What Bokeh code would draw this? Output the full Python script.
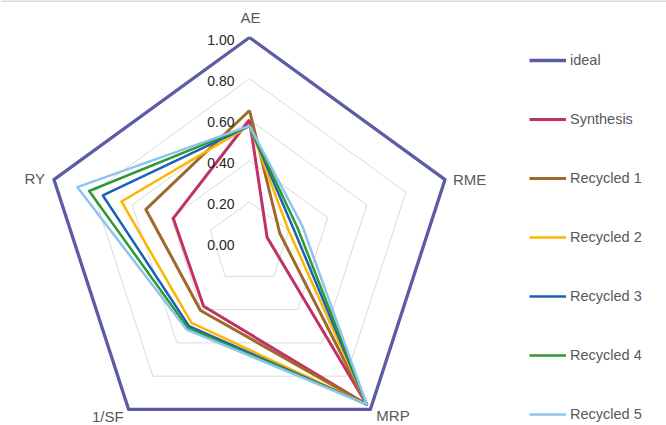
import numpy as np
from bokeh.plotting import figure
from bokeh.models import Range1d, Legend, LegendItem, Span
from bokeh.core.properties import value
from bokeh.embed import file_html
from bokeh.resources import INLINE

# ---- data ----
categories = ["AE", "RME", "MRP", "1/SF", "RY"]
series_names = ["ideal", "Synthesis", "Recycled 1", "Recycled 2", "Recycled 3", "Recycled 4", "Recycled 5"]
ideal = [1.00, 1.00, 1.00, 1.00, 1.00]
synthesis = [0.60, 0.09, 0.97, 0.38, 0.39]
recycled_1 = [0.645, 0.155, 0.97, 0.405, 0.53]
recycled_2 = [0.57, 0.20, 0.97, 0.48, 0.655]
recycled_3 = [0.57, 0.225, 0.97, 0.50, 0.75]
recycled_4 = [0.57, 0.245, 0.97, 0.51, 0.82]
recycled_5 = [0.57, 0.27, 0.97, 0.52, 0.88]
tick_values = [0.0, 0.2, 0.4, 0.6, 0.8, 1.0]
tick_labels = ["0.00", "0.20", "0.40", "0.60", "0.80", "1.00"]

series_values = [ideal, synthesis, recycled_1, recycled_2, recycled_3, recycled_4, recycled_5]
colors = ["#5C5CA6", "#C2306A", "#9E6A2C", "#FFB400", "#1A62B8", "#2E9A30", "#8EC4EC"]
widths = [3.3, 3.0, 3.0, 2.5, 2.5, 2.5, 2.5]

# ---- layout (pixels) ----
W, H = 666, 425
cx_px, cy_px = 249.0, 242.6   # radar centre in figure pixels
scale = 205.6                 # pixels per unit radius

x_range = Range1d(-cx_px / scale, (W - cx_px) / scale)
y_range = Range1d(-(H - cy_px) / scale, cy_px / scale)

p = figure(width=W, height=H, x_range=x_range, y_range=y_range,
           output_backend="svg", toolbar_location=None, min_border=0)
p.axis.visible = False
p.grid.visible = False
p.outline_line_color = None
p.background_fill_color = "white"
p.border_fill_color = "white"

# thin chart-area border at the top edge
p.add_layout(Span(location=y_range.end, dimension="width",
                  line_color="#D9D9D9", line_width=3))

n = len(categories)
angles = np.deg2rad(90 - 72 * np.arange(n))


def poly(vals):
    v = np.asarray(vals, dtype=float)
    xs = v * np.cos(angles)
    ys = v * np.sin(angles)
    return np.append(xs, xs[0]), np.append(ys, ys[0])


# gridlines
for t in tick_values[1:-1]:
    gx, gy = poly([t] * n)
    p.line(gx, gy, line_color="#D9D9D9", line_width=1)

# series
items = []
for name, vals, col, w in zip(series_names, series_values, colors, widths):
    sx, sy = poly(vals)
    r = p.line(sx, sy, line_color=col, line_width=w, line_join="round")
    items.append(LegendItem(label=name, renderers=[r]))

# value labels along AE axis
p.text(x=[0.0] * len(tick_values), y=tick_values, text=tick_labels,
       x_offset=-15, y_offset=2,
       text_align="right", text_baseline="middle",
       text_font=value("Liberation Sans"), text_font_size="14px",
       text_color="#262626")

# category labels
cat_x = list(np.cos(angles))
cat_y = list(np.sin(angles))
aligns = ["center", "left", "left", "right", "right"]
xoffs = [1, 8, 6, -5, -9]
yoffs = [-20, 0, 6, 7, -1]
for i in range(n):
    p.text(x=[cat_x[i]], y=[cat_y[i]], text=[categories[i]],
           x_offset=xoffs[i], y_offset=yoffs[i],
           text_align=aligns[i], text_baseline="middle",
           text_font=value("Liberation Sans"), text_font_size="15px",
           text_color="#595959")

legend = Legend(items=items, location=(529, 1),
                glyph_width=37, glyph_height=20, label_height=20,
                spacing=39, padding=0, margin=0, label_standoff=4,
                label_text_font="Liberation Sans", label_text_font_size="14.5px",
                label_text_color="#595959", label_text_baseline="middle",
                border_line_color=None, background_fill_alpha=0)
p.add_layout(legend, "center")

open("out.html", "w").write(file_html(p, INLINE))
